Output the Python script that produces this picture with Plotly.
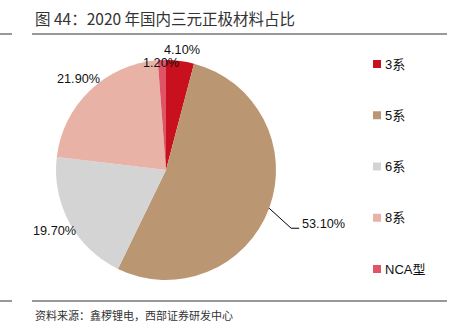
import math
import plotly.graph_objects as go

# ---- data ----
categories = ["3系", "5系", "6系", "8系", "NCA型"]
shares = [4.1, 53.1, 19.7, 21.9, 1.2]
colors = ["#C8101E", "#BA9772", "#D4D4D4", "#E8B3A6", "#DF5467"]
title_text = "图 44：2020 年国内三元正极材料占比"
source_text = "资料来源：鑫椤锂电，西部证券研发中心"

# ---- layout geometry (pixels) ----
W, H = 457, 329
CX, CY, R = 166, 170, 110
LABEL_FONT = 12.7
NUM_FAMILY = "Liberation Sans, Arial, sans-serif"
CJK_FAMILY = "Noto Sans CJK SC, sans-serif"


def px(x):
    return x / W


def py(y):
    return 1 - y / H


def text_width(s, size):
    w = 0.0
    for ch in s:
        if ch.isdigit():
            w += 0.556
        elif ch == ".":
            w += 0.278
        elif ch == "%":
            w += 0.889
        else:
            w += 0.6
    return w * size


fig = go.Figure()
fig.add_trace(go.Pie(
    labels=categories,
    values=shares,
    sort=False,
    direction="clockwise",
    rotation=0,
    marker=dict(colors=colors, line=dict(width=0)),
    textinfo="none",
    hoverinfo="label+percent",
    showlegend=False,
    domain=dict(x=[px(CX - R), px(CX + R)], y=[py(CY + R), py(CY - R)]),
))

annotations = []
shapes = []

# ---- slice labels computed from the data ----
total = sum(shares)
cum = 0.0
placed = []
largest = max(shares)
for cat, v in zip(categories, shares):
    mid = (cum + v / 2) / total * 2 * math.pi
    cum += v
    ux, uy = math.sin(mid), -math.cos(mid)  # y grows downward
    txt = f"{v:.2f}%"
    hw = text_width(txt, LABEL_FONT) / 2
    hh = LABEL_FONT * 0.5
    if v == largest:
        tipx, tipy = CX + R * ux, CY + R * uy
        sgn = 1 if ux >= 0 else -1
        elx, ely = tipx + 22 * sgn, tipy + 20
        endx = elx + 8 * sgn
        shapes.append(dict(type="path", xref="paper", yref="paper",
                           path=f"M {px(tipx)},{py(tipy)} L {px(elx)},{py(ely)} L {px(endx)},{py(ely)}",
                           line=dict(color="#000000", width=1)))
        annotations.append(dict(x=px(endx + sgn), y=py(ely - 4),
                                xref="paper", yref="paper", text=txt, showarrow=False,
                                xanchor="left" if sgn > 0 else "right", yanchor="middle",
                                font=dict(family=NUM_FAMILY, size=LABEL_FONT, color="#111111")))
        continue
    dist = R + 4 + abs(ux) * hw / 2 + abs(uy) * hh
    lx, ly = CX + dist * ux, CY + dist * uy
    for (ox, oy, ohw) in placed:
        if abs(lx - ox) < hw + ohw and abs(ly - oy) < 2 * hh:
            ly = oy + 1.05 * LABEL_FONT
    placed.append((lx, ly, hw))
    annotations.append(dict(x=px(lx), y=py(ly), xref="paper", yref="paper", text=txt,
                            showarrow=False, xanchor="center", yanchor="middle",
                            font=dict(family=NUM_FAMILY, size=LABEL_FONT, color="#111111")))

# ---- legend (manual, evenly spaced) ----
LEG_X, LEG_Y0, LEG_STEP, SW = 373, 64, 51.25, 8
for i, (cat, col) in enumerate(zip(categories, colors)):
    yc = LEG_Y0 + i * LEG_STEP
    shapes.append(dict(type="rect", xref="paper", yref="paper",
                       x0=px(LEG_X), x1=px(LEG_X + SW), y0=py(yc + SW / 2), y1=py(yc - SW / 2),
                       fillcolor=col, line=dict(width=0)))
    annotations.append(dict(x=px(LEG_X + SW + 2), y=py(yc), xref="paper", yref="paper",
                            text=cat, showarrow=False, xanchor="left", yanchor="middle",
                            font=dict(family="Liberation Sans, Noto Sans CJK SC, sans-serif",
                                      size=13, color="#111111")))

# ---- title, source, rules ----
annotations.append(dict(x=px(33), y=py(18), xref="paper", yref="paper", text=title_text,
                        showarrow=False, xanchor="left", yanchor="middle",
                        font=dict(family=CJK_FAMILY, size=15.5, color="#333333")))
annotations.append(dict(x=px(33), y=py(315), xref="paper", yref="paper", text=source_text,
                        showarrow=False, xanchor="left", yanchor="middle",
                        font=dict(family=CJK_FAMILY, size=11, color="#333333")))
for yy in (34, 301):
    shapes.append(dict(type="line", xref="paper", yref="paper", x0=0, x1=px(12),
                       y0=py(yy), y1=py(yy), line=dict(color="#333333", width=1)))
    shapes.append(dict(type="line", xref="paper", yref="paper", x0=px(32), x1=px(447),
                       y0=py(yy), y1=py(yy), line=dict(color="#333333", width=1)))

fig.update_layout(
    width=W, height=H,
    margin=dict(l=0, r=0, t=0, b=0),
    paper_bgcolor="white", plot_bgcolor="white",
    showlegend=False,
    annotations=annotations,
    shapes=shapes,
)

fig.write_html("out.html")
